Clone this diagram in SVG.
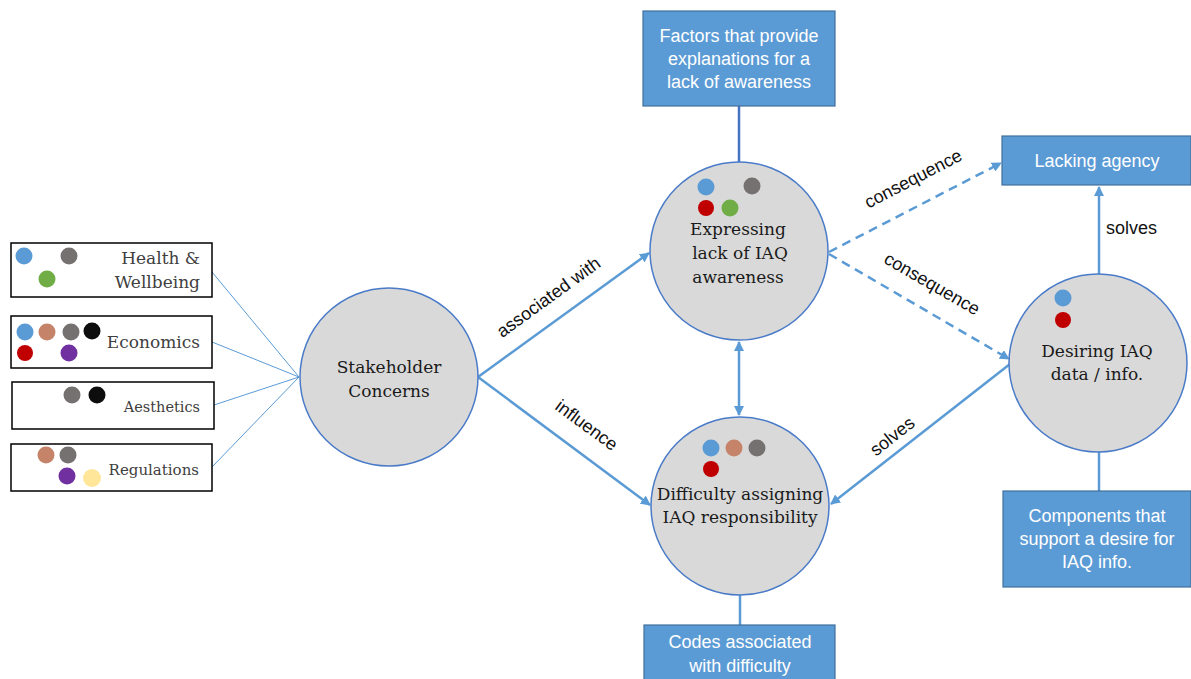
<svg xmlns="http://www.w3.org/2000/svg" width="1191" height="679" viewBox="0 0 1191 679">
<style>
.node{fill:#D9D9D9;stroke:#4A7BC8;stroke-width:1.5}
.box{fill:#5B9BD5;stroke:#41719C;stroke-width:1.2}
.cat{fill:#fff;stroke:#000;stroke-width:1.5}
.st{font-family:"DejaVu Serif","Liberation Serif",serif;font-size:17px;fill:#1a1a1a;text-anchor:middle}
.ct{font-family:"DejaVu Serif","Liberation Serif",serif;fill:#404040;text-anchor:end}
.bt{font-family:"Liberation Sans",Arial,sans-serif;font-size:18px;fill:#fff;text-anchor:middle}
.lb{font-family:"Liberation Sans",Arial,sans-serif;font-size:18px;fill:#111;text-anchor:middle}
.thin{stroke:#5B9BD5;stroke-width:1;fill:none}
.conn{stroke:#5B9BD5;stroke-width:2.5;fill:none}
.dash{stroke:#5B9BD5;stroke-width:2.5;fill:none;stroke-dasharray:9,6}
.b{fill:#5B9BD5}.g{fill:#767171}.gr{fill:#70AD47}.br{fill:#C5846A}.k{fill:#0D0D0D}.r{fill:#C00000}.p{fill:#7030A0}.y{fill:#FFE699}
</style>
<defs>
<marker id="ah" viewBox="0 0 10 10" refX="9" refY="5" markerWidth="4" markerHeight="4" orient="auto-start-reverse" markerUnits="strokeWidth">
<path d="M0,0 L10,5 L0,10 z" fill="#5B9BD5"/>
</marker>
</defs>

<g id="connectors">
<line class="thin" x1="212" y1="272" x2="299" y2="377"/>
<line class="thin" x1="212" y1="342" x2="299" y2="377"/>
<line class="thin" x1="214" y1="405" x2="299" y2="377"/>
<line class="thin" x1="212" y1="467" x2="299" y2="377"/>
<line class="conn" x1="478" y1="377" x2="649" y2="253" marker-end="url(#ah)"/>
<line class="conn" x1="478" y1="377" x2="650" y2="505" marker-end="url(#ah)"/>
<line class="conn" x1="739" y1="342" x2="739" y2="415" marker-start="url(#ah)" marker-end="url(#ah)"/>
<line x1="739" y1="106" x2="739" y2="162" stroke="#4472C4" stroke-width="2.5"/>
<line class="conn" x1="740" y1="595" x2="740" y2="625"/>
<line class="dash" x1="829" y1="252" x2="1001" y2="163" marker-end="url(#ah)"/>
<line class="dash" x1="829" y1="254" x2="1009" y2="359" marker-end="url(#ah)"/>
<line class="conn" x1="1010" y1="364" x2="831" y2="504" marker-end="url(#ah)"/>
<line class="conn" x1="1099" y1="274" x2="1099" y2="187" marker-end="url(#ah)"/>
<line class="conn" x1="1099" y1="452" x2="1099" y2="491"/>
<text class="lb" transform="translate(552,302) rotate(-36)">associated with</text>
<text class="lb" transform="translate(583,430) rotate(36.5)">influence</text>
<text class="lb" transform="translate(916,184) rotate(-27.5)">consequence</text>
<text class="lb" transform="translate(929,289) rotate(30)">consequence</text>
<text class="lb" transform="translate(896,441) rotate(-38)">solves</text>
<text class="lb" x="1106" y="234" style="text-anchor:start">solves</text>
</g>

<g id="health">
<rect class="cat" x="11" y="243" width="201" height="54"/>
<circle class="b" cx="24" cy="256" r="8.5"/><circle class="g" cx="69" cy="256" r="8.5"/><circle class="gr" cx="47" cy="279" r="8.5"/>
<text class="ct" x="200" y="264" font-size="17">Health &amp;</text>
<text class="ct" x="200" y="288" font-size="17">Wellbeing</text>
</g>
<g id="economics">
<rect class="cat" x="11" y="316" width="201" height="52"/>
<circle class="b" cx="25" cy="332" r="8.5"/><circle class="br" cx="47" cy="332" r="8.5"/><circle class="g" cx="71" cy="332" r="8.5"/><circle class="k" cx="92" cy="331" r="8.5"/>
<circle class="r" cx="25" cy="353" r="8"/><circle class="p" cx="69" cy="353" r="8.5"/>
<text class="ct" x="200" y="348" font-size="17">Economics</text>
</g>
<g id="aesthetics">
<rect class="cat" x="12" y="382" width="202" height="47"/>
<circle class="g" cx="72" cy="395" r="8.5"/><circle class="k" cx="97" cy="395" r="8.5"/>
<text class="ct" x="200" y="412" font-size="14.5">Aesthetics</text>
</g>
<g id="regulations">
<rect class="cat" x="11" y="444" width="201" height="47"/>
<circle class="br" cx="46" cy="455" r="8.5"/><circle class="g" cx="68" cy="455" r="8.5"/><circle class="p" cx="67" cy="476" r="8.5"/><circle class="y" cx="92" cy="478" r="9"/>
<text class="ct" x="199" y="475" font-size="15">Regulations</text>
</g>

<g id="stakeholder">
<circle class="node" cx="389" cy="377" r="89"/>
<text class="st" x="389" y="373">Stakeholder</text>
<text class="st" x="389" y="397">Concerns</text>
</g>
<g id="expressing">
<circle class="node" cx="739" cy="251" r="89"/>
<circle class="b" cx="706" cy="187" r="8.5"/><circle class="g" cx="752" cy="186" r="8.5"/><circle class="r" cx="706" cy="208" r="8"/><circle class="gr" cx="730" cy="208" r="8.5"/>
<text class="st" x="738" y="235">Expressing</text>
<text class="st" x="740" y="259">lack of IAQ</text>
<text class="st" x="738" y="283">awareness</text>
</g>
<g id="difficulty">
<circle class="node" cx="740" cy="506" r="89"/>
<circle class="b" cx="711" cy="448" r="8.5"/><circle class="br" cx="734" cy="448" r="8.5"/><circle class="g" cx="757" cy="448" r="8.5"/><circle class="r" cx="711" cy="469" r="8"/>
<text class="st" x="740" y="500">Difficulty assigning</text>
<text class="st" x="740" y="523">IAQ responsibility</text>
</g>
<g id="desiring">
<circle class="node" cx="1098" cy="363" r="89"/>
<circle class="b" cx="1063" cy="298" r="8.5"/><circle class="r" cx="1063" cy="320" r="8"/>
<text class="st" x="1097" y="357">Desiring IAQ</text>
<text class="st" x="1097" y="380">data / info.</text>
</g>
<g id="factors">
<rect class="box" x="643" y="11" width="192" height="95"/>
<text class="bt" x="739" y="42">Factors that provide</text>
<text class="bt" x="739" y="65">explanations for a</text>
<text class="bt" x="739" y="88">lack of awareness</text>
</g>
<g id="codes">
<rect class="box" x="644" y="625" width="191" height="60"/>
<text class="bt" x="740" y="648">Codes associated</text>
<text class="bt" x="740" y="672">with difficulty</text>
</g>
<g id="lacking">
<rect class="box" x="1002" y="136" width="189" height="49"/>
<text class="bt" x="1097" y="167">Lacking agency</text>
</g>
<g id="components">
<rect class="box" x="1003" y="491" width="188" height="96"/>
<text class="bt" x="1097" y="522">Components that</text>
<text class="bt" x="1097" y="545">support a desire for</text>
<text class="bt" x="1097" y="568">IAQ info.</text>
</g>
</svg>
